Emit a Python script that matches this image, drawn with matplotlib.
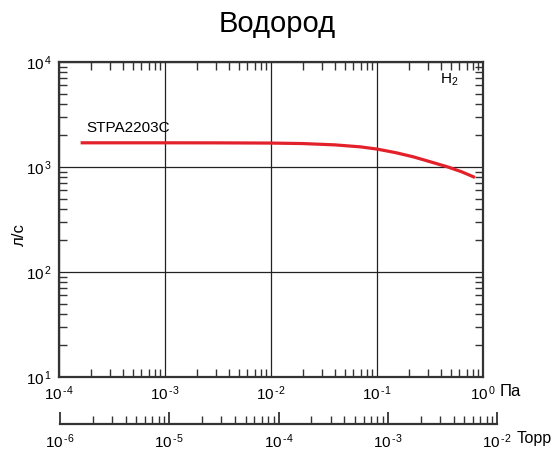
import numpy as np
from matplotlib import pyplot as plt
from matplotlib.ticker import LogLocator, FixedLocator, NullFormatter

# pumping speed for H2
pressure_pa = [1.6e-4, 1e-3, 3e-3, 1e-2, 2e-2, 4e-2, 7e-2, 1e-1, 1.5e-1, 2.2e-1, 3.2e-1, 4.6e-1, 6.3e-1, 8.4e-1]
speed_ls = [1700, 1700, 1698, 1690, 1672, 1625, 1555, 1482, 1370, 1250, 1120, 1005, 900, 795]

pa_ticks = [1e-4, 1e-3, 1e-2, 1e-1, 1e0]
pa_labels = ["-4", "-3", "-2", "-1", "0"]
torr_ticks = [1e-6, 1e-5, 1e-4, 1e-3, 1e-2]
torr_labels = ["-6", "-5", "-4", "-3", "-2"]
y_ticks = [1e1, 1e2, 1e3, 1e4]
y_labels = ["1", "2", "3", "4"]

plt.rcParams['font.family'] = ['Liberation Sans', 'DejaVu Sans']
plt.rcParams['mathtext.fontset'] = 'custom'
plt.rcParams['mathtext.rm'] = 'Liberation Sans'
plt.rcParams['mathtext.it'] = 'Liberation Sans'

fig = plt.figure(figsize=(5.54, 4.51), dpi=100)
ax = fig.add_axes([0.1065, 0.1641, 0.7653, 0.6984])

ax.plot(pressure_pa, speed_ls, color='#e3212b', lw=2.3, solid_capstyle='butt')
ax.set_xscale('log')
ax.set_yscale('log')
ax.set_xlim(1e-4, 1e0)
ax.set_ylim(1e1, 1e4)

def exp_label(e):
    return r'$10^{\,' + e.replace('-', '\u2010') + '}$'

ax.xaxis.set_major_locator(FixedLocator(pa_ticks))
ax.set_xticklabels([exp_label(l) for l in pa_labels])
ax.yaxis.set_major_locator(FixedLocator(y_ticks))
ax.set_yticklabels([exp_label(l) for l in y_labels])
ax.xaxis.set_minor_locator(LogLocator(base=10, subs=np.arange(2, 10)))
ax.yaxis.set_minor_locator(LogLocator(base=10, subs=np.arange(2, 10)))
ax.xaxis.set_minor_formatter(NullFormatter())
ax.yaxis.set_minor_formatter(NullFormatter())

ax.tick_params(which='both', direction='in', top=True, right=True, labelsize=11)
ax.tick_params(which='major', length=0, pad=5)
ax.tick_params(which='minor', length=6, width=1, color='#333333')
ax.grid(which='major', color='#222222', lw=0.9)
for s in ax.spines.values():
    s.set_linewidth(1.6)
    s.set_color('#333333')

fig.text(0.035, 0.48, 'л/с', fontsize=12, rotation=90, ha='center', va='center')
ax.text(0.064, 0.768, 'STPA2203C', transform=ax.transAxes, fontsize=11, va='bottom')
ax.text(0.92, 0.93, r'H$_{2}$', transform=ax.transAxes, fontsize=11, ha='center')
fig.text(0.902, 0.133, 'Па', fontsize=12, va='center')
fig.text(0.932, 0.028, 'Торр', fontsize=11.5, va='center')
fig.suptitle('Водород', fontsize=21, y=0.978)

# Torr scale below
ax2 = fig.add_axes([0.1083, 0.0599, 0.789, 0.0001])
ax2.set_xscale('log')
ax2.set_xlim(1e-6, 1e-2)
ax2.set_yticks([])
for k in ['top', 'left', 'right']:
    ax2.spines[k].set_visible(False)
ax2.spines['bottom'].set_linewidth(1.6)
ax2.spines['bottom'].set_color('#333333')
ax2.patch.set_visible(False)
ax2.xaxis.set_major_locator(FixedLocator(torr_ticks))
ax2.set_xticklabels([exp_label(l) for l in torr_labels])
ax2.xaxis.set_minor_locator(LogLocator(base=10, subs=np.arange(2, 10)))
ax2.xaxis.set_minor_formatter(NullFormatter())
ax2.tick_params(which='both', direction='in', labelsize=11, color='#333333')
ax2.tick_params(which='major', length=9, width=1.3, pad=6)
ax2.tick_params(which='minor', length=6, width=1)

fig.savefig('out.png', dpi=100)
